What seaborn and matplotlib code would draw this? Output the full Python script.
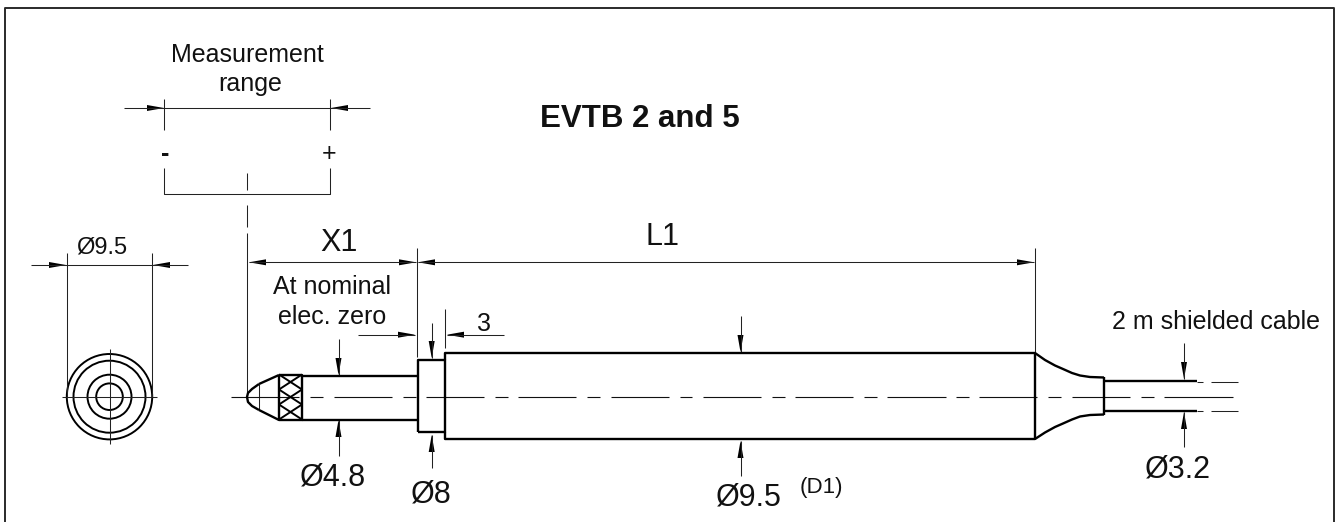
import matplotlib
matplotlib.use("Agg")
import matplotlib.pyplot as plt
from matplotlib.patches import Circle
import pandas as pd
import seaborn as sns

sns.set_theme(style="white")
plt.rcParams['font.family'] = ['Liberation Sans', 'DejaVu Sans']

W, H = 1336, 522

# ---- drawing geometry (pixels) ----
frame_paths = [[(5, 522), (5, 8), (1334, 8), (1334, 522)]]

outline_paths = [
    [(259, 384), (252, 389), (248, 393), (247, 397), (248, 402), (252, 406), (259, 410)],
    [(259, 384), (279, 375)],
    [(259, 410), (279, 420)],
    [(279, 375), (302, 375), (302, 420), (279, 420), (279, 375)],
    [(302, 375.5), (418, 375.5)],
    [(302, 419.5), (418, 419.5)],
    [(418, 432), (418, 360), (445, 360), (445, 432), (418, 432)],
    [(445, 360), (445, 353), (1035, 353), (1035, 439), (445, 439), (445, 432)],
    [(1035, 353), (1045, 360), (1055, 365.5), (1063, 369), (1072, 373), (1080, 375.5), (1090, 377), (1104, 377.5)],
    [(1035, 439), (1045, 432.5), (1055, 427), (1063, 423.5), (1072, 419.5), (1080, 416.5), (1090, 415), (1104, 414.5)],
    [(1104, 377), (1104, 415)],
    [(1104, 381), (1197, 381)],
    [(1104, 410.5), (1197, 410.5)],
]

knurl_paths = [
    [(279, 374.5), (302, 389.5)], [(279, 389.5), (302, 404.5)], [(279, 404.5), (302, 419.5)],
    [(279, 389.5), (302, 374.5)], [(279, 404.5), (302, 389.5)], [(279, 419.5), (302, 404.5)],
]

center_y = 397
center_dashes = [(231, 299), (310, 323), (334, 392), (403, 416), (426, 484), (495, 508), (518, 576),
                 (587, 600), (611, 669), (680, 692), (703, 761), (772, 785), (795, 853), (864, 877),
                 (887, 946), (956, 969), (979, 1037), (1048, 1061), (1072, 1130), (1141, 1154), (1164, 1233)]

thin_paths = [
    [(124, 108), (370, 108)],
    [(164, 99), (164, 130)],
    [(329.7, 99), (329.7, 130)],
    [(164, 168), (164, 194), (329.7, 194), (329.7, 168)],
    [(247, 173), (247, 190)],
    [(247, 205), (247, 227)],
    [(247, 233), (247, 396)],
    [(31, 265), (188, 265)],
    [(66.7, 253), (66.7, 397)],
    [(152, 253), (152, 397)],
    [(62, 396.7), (157, 396.7)],
    [(109.5, 349), (109.5, 444)],
    [(259, 384), (259, 410)],
    [(249, 262.3), (416, 262.3)],
    [(418, 262.3), (1034, 262.3)],
    [(416.7, 248), (416.7, 357)],
    [(1035, 248), (1035, 352)],
    [(358, 334.7), (415, 334.7)],
    [(338.5, 339), (338.5, 375)],
    [(338.5, 420), (338.5, 456)],
    [(431.7, 323), (431.7, 358)],
    [(431.7, 435), (431.7, 468)],
    [(444.7, 309), (444.7, 348)],
    [(447, 334.7), (504, 334.7)],
    [(740.5, 316), (740.5, 352)],
    [(740.5, 441), (740.5, 476)],
    [(1184, 343), (1184, 379)],
    [(1184, 412), (1184, 447)],
    [(1197, 381.5), (1203, 381.5)],
    [(1211, 381.5), (1238, 381.5)],
    [(1197, 410.5), (1203, 410.5)],
    [(1211, 410.5), (1238, 410.5)],
]

# tip x, tip y, pointing direction (dx, dy)
arrows = [
    (164, 108, 1, 0), (331, 108, -1, 0),
    (66, 265, 1, 0), (153, 265, -1, 0),
    (249, 262.3, -1, 0), (416, 262.3, 1, 0),
    (418, 262.3, -1, 0), (1034, 262.3, 1, 0),
    (415, 334.7, 1, 0), (447, 334.7, -1, 0),
    (338.5, 375, 0, 1), (338.5, 420, 0, -1),
    (431.7, 358, 0, 1), (431.7, 435, 0, -1),
    (740.5, 352, 0, 1), (740.5, 441, 0, -1),
    (1184, 379, 0, 1), (1184, 412, 0, -1),
]
arrow_len, arrow_half = 17, 3

circle_center = (109.5, 396.7)
circle_radii = [42.7, 36, 22, 13.3]

# centre x, baseline y, text, size, weight
labels = [
    (247, 62.3, "Measurement", 18, "normal"), (250, 91.5, "range", 18, "normal"),
    (165, 160.6, "-", 18, "bold"), (329.5, 161, "+", 18, "normal"),
    (640, 126.7, "EVTB 2 and 5", 22.5, "bold"),
    (102, 253, "Ø9.5", 17, "normal"),
    (339, 251, "X1", 22, "normal"),
    (662, 245, "L1", 22, "normal"),
    (332, 294, "At nominal", 18, "normal"),
    (332, 324, "elec. zero", 18, "normal"),
    (484, 331, "3", 18, "normal"),
    (1216, 329.3, "2 m shielded cable", 18, "normal"),
    (333, 485, "Ø4.8", 22, "normal"),
    (431, 502.7, "Ø8", 22, "normal"),
    (749, 505.7, "Ø9.5", 22, "normal"),
    (821, 493, "(D1)", 16, "normal"),
    (1178, 477.3, "Ø3.2", 22, "normal"),
]


def draw_paths(ax, paths, lw, color):
    rows = [(i, x, y) for i, p in enumerate(paths) for x, y in p]
    df = pd.DataFrame(rows, columns=["path", "x", "y"])
    sns.lineplot(data=df, x="x", y="y", units="path", estimator=None, sort=False,
                 color=color, linewidth=lw, legend=False, ax=ax, solid_capstyle="butt")


fig = plt.figure(figsize=(W / 100, H / 100), dpi=100, facecolor="white")
ax = fig.add_axes([0, 0, 1, 1])

draw_paths(ax, frame_paths, 1.4, "#2a2a2a")
draw_paths(ax, thin_paths, 0.75, "#222222")
draw_paths(ax, [[(a, center_y), (b, center_y)] for a, b in center_dashes], 0.8, "#111111")
draw_paths(ax, knurl_paths, 1.4, "black")
draw_paths(ax, outline_paths, 1.7, "black")

for r in circle_radii:
    ax.add_patch(Circle(circle_center, r, fill=False, edgecolor="black", linewidth=1.4))

for x, y, dx, dy in arrows:
    bx, by = x - dx * arrow_len, y - dy * arrow_len
    px, py = -dy * arrow_half, dx * arrow_half
    ax.fill([x, bx + px, bx - px], [y, by + py, by - py], color="black", lw=0)

for x, y, s, fs, weight in labels:
    ax.text(x, y, s, fontsize=fs, fontweight=weight, ha="center", va="baseline", color="#111111")

ax.set_xlim(0, W)
ax.set_ylim(H, 0)
ax.axis("off")
fig.savefig("out.png", dpi=100, facecolor="white")
